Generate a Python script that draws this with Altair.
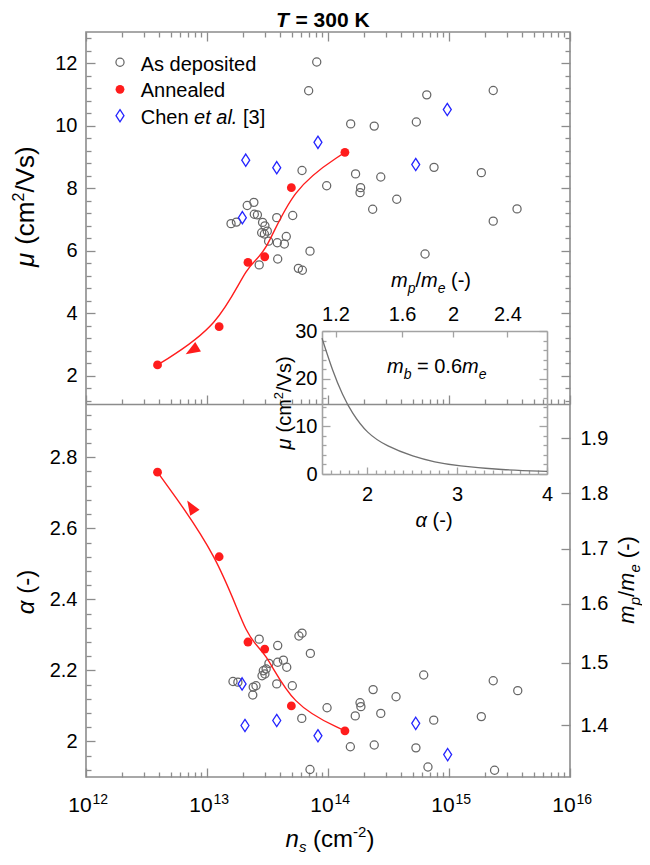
import math
import altair as alt
import pandas as pd

# ---------------- data ----------------
# upper panel: mobility mu (cm^2/Vs) vs sheet density n_s (cm^-2)
dep_top_ns = [8.07e13, 6.92e13, 6.55e14, 2.32e15, 1.54e14, 2.41e14, 5.37e14, 6.1e13, 1.69e14, 2.73e14,
              7.52e14, 1.85e15, 9.75e13, 1.86e14, 1.84e14, 3.7e14, 2.34e14, 6.34e14, 2.32e15, 3.65e15,
              1.58e13, 1.75e13, 2.15e13, 2.44e13, 2.46e13, 2.61e13, 2.88e13, 3.01e13, 2.83e13, 2.98e13,
              3.15e13, 3.23e13, 3.77e13, 3.81e13, 4.36e13, 4.52e13, 5.11e13, 3.84e13, 2.70e13, 7.1e13,
              5.69e13, 6.14e13]
dep_top_mu = [12.04, 11.12, 10.99, 11.13, 10.06, 9.99, 10.12, 8.57, 8.46, 8.36,
              8.67, 8.50, 8.08, 8.02, 7.86, 7.65, 7.33, 5.90, 6.95, 7.34,
              6.87, 6.92, 7.45, 7.55, 7.17, 7.15, 6.91, 6.80, 6.58, 6.54,
              6.63, 6.31, 7.06, 6.26, 6.22, 6.46, 7.13, 5.74, 5.55, 5.99,
              5.44, 5.38]
chen_top_ns = [2.09e13, 3.77e13, 8.26e13, 5.31e14, 9.68e14, 1.96e13]
chen_top_mu = [8.90, 8.66, 9.47, 8.76, 10.52, 7.06]

# lower panel: alpha (-) vs n_s
dep_bot_ns = [1.64e13, 1.80e13, 2.39e13, 2.41e13, 2.54e13, 2.70e13, 2.85e13, 3.01e13, 2.92e13, 3.08e13,
              3.25e13, 3.77e13, 3.84e13, 4.28e13, 3.84e13, 4.56e13, 5.07e13, 5.75e13, 6.10e13, 7.15e13,
              6.07e13, 9.82e13, 1.68e14, 1.84e14, 1.87e14, 2.36e14, 2.73e14, 3.65e14, 6.18e14, 7.48e14,
              1.85e15, 2.32e15, 3.70e15, 1.53e14, 2.41e14, 5.33e14, 7.10e13, 6.70e14, 2.38e15]
dep_bot_alpha = [2.169, 2.167, 2.131, 2.153, 2.157, 2.288, 2.185, 2.190, 2.199, 2.204,
                 2.220, 2.162, 2.223, 2.229, 2.270, 2.209, 2.157, 2.297, 2.305, 2.248,
                 2.065, 2.095, 2.072, 2.109, 2.098, 2.146, 2.079, 2.126, 2.187, 2.060,
                 2.070, 2.171, 2.143, 1.985, 1.990, 1.982, 1.921, 1.928, 1.919]
chen_bot_ns = [1.95e13, 2.06e13, 3.77e13, 8.26e13, 5.31e14, 9.75e14]
chen_bot_alpha = [2.162, 2.045, 2.059, 2.016, 2.051, 1.963]

# annealed series (both panels)
ann_ns = [3.9e12, 1.26e13, 2.18e13, 3.0e13, 4.98e13, 1.38e14]
ann_mu = [2.35, 3.575, 5.63, 5.81, 8.02, 9.15]
ann_alpha = [2.758, 2.52, 2.28, 2.26, 2.10, 2.03]

# arrow heads on the annealed curves
arrow_top = (7.66e12, 2.83)
arrow_bot = (7.48e12, 2.658)

# inset: mu vs alpha for m_b = 0.6 m_e
inset_alpha = [1.5, 1.62, 1.73, 1.83, 2.0, 2.22, 2.52, 2.75, 3.0, 3.5, 4.0]
inset_mu = [28.5, 21.5, 16.5, 12.9, 8.5, 5.8, 3.6, 2.5, 1.7, 0.85, 0.55]

# m_p/m_e tick labels and the alpha at which they sit
mp_labels = ["1.4", "1.5", "1.6", "1.7", "1.8", "1.9"]
mp_alpha = [2.045, 2.222, 2.388, 2.542, 2.699, 2.854]
mp_top_labels = ["1.2", "1.6", "2", "2.4"]
mp_top_alpha = [1.65, 2.39, 2.955, 3.56]

# ---------------- layout / style ----------------
W, H, HT = 484, 745, 372
FONT = "Liberation Sans"
FRAME = "#8c8c8c"
INSET = "#a3a3a3"
GRAY = "#666666"
RED = "#ff1c1c"
BLUE = "#2424ff"
DIAMOND = "M0,-1L0.65,0L0,1L-0.65,0Z"


def tri_path(dx, dy):
    n = math.hypot(dx, dy)
    dx, dy = dx / n, dy / n
    px, py = -dy, dx
    bx, by = -0.7 * dx, -0.7 * dy
    c1 = (bx + 0.65 * px, by + 0.65 * py)
    c2 = (bx - 0.65 * px, by - 0.65 * py)
    return f"M{dx:.3f},{dy:.3f}L{c1[0]:.3f},{c1[1]:.3f}L{c2[0]:.3f},{c2[1]:.3f}Z"


TRI_TOP = tri_path(-0.857, 0.515)   # pointing down-left
TRI_BOT = tri_path(-0.53, -0.848)   # pointing up-left

xs = alt.Scale(type="log", domain=[1e12, 1e16], nice=False)
ys_top = alt.Scale(domain=[1.1, 13], range=[HT, 0], nice=False, zero=False)
ys_bot = alt.Scale(domain=[1.9, 2.95], range=[H, HT], nice=False, zero=False)
xs_in = alt.Scale(domain=[1.5, 4], range=[236, 461], nice=False, zero=False)
ys_in = alt.Scale(domain=[0, 30], range=[442, 299], nice=False, zero=False)

dec = [1e12, 1e13, 1e14, 1e15, 1e16]
dec_minor = [k * 10.0 ** d for d in range(12, 16) for k in range(2, 10)]
mu_major = [2, 4, 6, 8, 10, 12]
mu_minor = [round(0.4 * i, 2) for i in range(3, 33) if i % 5 != 0]
al_major = [2.0, 2.2, 2.4, 2.6, 2.8]
al_minor = [round(0.04 * i, 2) for i in range(48, 74) if i % 5 != 0]
in_y_major = [0, 10, 20, 30]
in_y_minor = [i for i in range(2, 30, 2) if i % 10 != 0]
in_x_major = [2, 3, 4]
in_x_minor = [round(0.1 * i, 1) for i in range(16, 40) if i % 10 != 0]

one = pd.DataFrame({"k": [0]})
top_dep = pd.DataFrame({"ns": dep_top_ns, "v": dep_top_mu})
top_chen = pd.DataFrame({"ns": chen_top_ns, "v": chen_top_mu})
top_ann = pd.DataFrame({"ns": ann_ns, "v": ann_mu})
top_arr = pd.DataFrame({"ns": [arrow_top[0]], "v": [arrow_top[1]]})
bot_dep = pd.DataFrame({"ns": dep_bot_ns, "v": dep_bot_alpha})
bot_chen = pd.DataFrame({"ns": chen_bot_ns, "v": chen_bot_alpha})
bot_ann = pd.DataFrame({"ns": ann_ns, "v": ann_alpha})
bot_arr = pd.DataFrame({"ns": [arrow_bot[0]], "v": [arrow_bot[1]]})
inset_df = pd.DataFrame({"a": inset_alpha, "v": inset_mu})


def step_expr(vals, labs):
    expr = f"'{labs[-1]}'"
    for i in range(len(vals) - 2, -1, -1):
        mid = (vals[i] + vals[i + 1]) / 2
        expr = f"datum.value < {mid:.4f} ? '{labs[i]}' : ({expr})"
    return expr


def ax(df, field, ch, scale, orient, values, offset=0, tick=0, labels=False, domain=False,
       color=FRAME, **kw):
    opts = dict(orient=orient, offset=offset, values=values, grid=False, title=None,
                labels=labels, domain=domain, domainColor=color, tickColor=color)
    if tick > 0:
        opts.update(ticks=True, tickSize=tick)
    else:
        opts.update(ticks=False, tickSize=0)
    opts.update(kw)
    axis = alt.Axis(**opts)
    if ch == "x":
        enc = alt.X(f"{field}:Q", scale=scale, axis=axis)
    else:
        enc = alt.Y(f"{field}:Q", scale=scale, axis=axis)
    return alt.Chart(df).mark_point(opacity=0).encode(**{ch: enc})


def panel_marks(dep, chen, ann, arr, ys, tri):
    X = alt.X("ns:Q", scale=xs, axis=None)
    Y = alt.Y("v:Q", scale=ys, axis=None)
    return [
        alt.Chart(dep).mark_point(shape="circle", filled=False, color=GRAY, size=66,
                                  strokeWidth=1.25, opacity=1).encode(x=X, y=Y),
        alt.Chart(chen).mark_point(shape=DIAMOND, filled=False, color=BLUE, size=150,
                                   strokeWidth=1.3, opacity=1).encode(x=X, y=Y),
        alt.Chart(ann).mark_line(interpolate="basis", color=RED, strokeWidth=1.4).encode(x=X, y=Y),
        alt.Chart(ann).mark_point(shape="circle", filled=True, color=RED, size=78,
                                  opacity=1, strokeWidth=0).encode(x=X, y=Y),
        alt.Chart(arr).mark_point(shape=tri, filled=True, color=RED, size=290, opacity=1,
                                  strokeWidth=0).encode(x=X, y=Y),
    ]


# ---- upper panel ----
top_axes = [
    ax(top_dep, "v", "y", ys_top, "left", mu_major, labels=True, labelPadding=9),
    ax(top_dep, "v", "y", ys_top, "right", mu_major, offset=-W, tick=9),
    ax(top_dep, "v", "y", ys_top, "right", mu_minor, offset=-W, tick=5),
    ax(top_dep, "v", "y", ys_top, "left", mu_major, offset=-W, tick=9),
    ax(top_dep, "v", "y", ys_top, "left", mu_minor, offset=-W, tick=5),
    ax(top_dep, "ns", "x", xs, "bottom", dec, offset=-H, tick=9),
    ax(top_dep, "ns", "x", xs, "bottom", dec_minor, offset=-H, tick=5),
    ax(top_dep, "ns", "x", xs, "top", dec, offset=-HT, tick=9, domain=True),
    ax(top_dep, "ns", "x", xs, "top", dec_minor, offset=-HT, tick=5),
]
top = alt.layer(*panel_marks(top_dep, top_chen, top_ann, top_arr, ys_top, TRI_TOP),
                *top_axes).resolve_axis(x="independent", y="independent")

# ---- lower panel ----
bot_axes = [
    ax(bot_dep, "v", "y", ys_bot, "left", al_major, labels=True, labelPadding=9, format=".2~f"),
    ax(bot_dep, "v", "y", ys_bot, "right", al_major, offset=-W, tick=9),
    ax(bot_dep, "v", "y", ys_bot, "right", al_minor, offset=-W, tick=5),
    ax(bot_dep, "v", "y", ys_bot, "left", mp_alpha, offset=-W, tick=9),
    ax(bot_dep, "v", "y", ys_bot, "right", mp_alpha, labels=True, labelPadding=10,
       labelExpr=step_expr(mp_alpha, mp_labels)),
    ax(bot_dep, "ns", "x", xs, "bottom", dec, labels=True, labelPadding=17, labelExpr="'10'",
       labelOffset=-6.5, labelFontSize=21),
    ax(bot_dep, "ns", "x", xs, "bottom", dec, labels=True, labelPadding=15,
       labelExpr="'' + round(log(datum.value) / LN10)", labelOffset=6, labelAlign="left",
       labelFontSize=14),
    ax(bot_dep, "ns", "x", xs, "top", dec, offset=-H, tick=9),
    ax(bot_dep, "ns", "x", xs, "top", dec_minor, offset=-H, tick=5),
]
bot = alt.layer(*panel_marks(bot_dep, bot_chen, bot_ann, bot_arr, ys_bot, TRI_BOT),
                *bot_axes).resolve_axis(x="independent", y="independent")

# ---- inset ----
inset_axes = [
    ax(inset_df, "v", "y", ys_in, "left", in_y_major, offset=-236, labels=True, labelPadding=5),
    ax(inset_df, "v", "y", ys_in, "right", in_y_major, offset=-(W - 236), tick=8, domain=True, color=INSET),
    ax(inset_df, "v", "y", ys_in, "right", in_y_minor, offset=-(W - 236), tick=4, color=INSET),
    ax(inset_df, "v", "y", ys_in, "left", in_y_major, offset=-461, tick=8, domain=True, color=INSET),
    ax(inset_df, "v", "y", ys_in, "left", in_y_minor, offset=-461, tick=4, color=INSET),
    ax(inset_df, "a", "x", xs_in, "bottom", in_x_major, offset=-(H - 442), labels=True, labelPadding=10),
    ax(inset_df, "a", "x", xs_in, "top", in_x_major, offset=-442, tick=7, domain=True, color=INSET),
    ax(inset_df, "a", "x", xs_in, "top", in_x_minor, offset=-442, tick=4, color=INSET),
    ax(inset_df, "a", "x", xs_in, "top", mp_top_alpha, offset=-299, labels=True, labelPadding=7,
       labelExpr=step_expr(mp_top_alpha, mp_top_labels)),
    ax(inset_df, "a", "x", xs_in, "bottom", mp_top_alpha, offset=-(H - 299), tick=6, domain=True,
       color=INSET),
]
inset_curve = alt.Chart(inset_df).mark_line(interpolate="basis", color="#707070",
                                            strokeWidth=1.3).encode(
    x=alt.X("a:Q", scale=xs_in, axis=None), y=alt.Y("v:Q", scale=ys_in, axis=None))
inset = alt.layer(inset_curve, *inset_axes).resolve_axis(x="independent", y="independent")

# ---------------- text (mixed italic / sub- and superscripts) ----------------
CW = {' ': .278, '(': .333, ')': .333, '-': .333, '/': .278, '.': .278, '=': .584, '[': .278,
      ']': .278, 'm': .833, 'c': .5, 's': .5, 'V': .667, 'T': .611, 'K': .667, 'μ': .576,
      'α': .578, 'i': .222, 'l': .222, 't': .278, 'C': .722, 'A': .667}


def tw(s, size, bold=False):
    return sum(CW.get(c, .556) for c in s) * size * (1.06 if bold else 1.0)


def txt(s, x, y, size, italic=False, bold=False, angle=0):
    kw = dict(text=s, font=FONT, fontSize=size, color="black", align="left",
              baseline="alphabetic", fontStyle="italic" if italic else "normal",
              fontWeight="bold" if bold else "normal")
    if angle:
        kw["angle"] = angle
    return alt.Chart(one).mark_text(**kw).encode(x=alt.value(x), y=alt.value(y))


def run(pieces, x0, y0, angle=0):
    out, pos = [], 0.0
    for s, size, it, bd, shift in pieces:
        body = s.lstrip(" ")
        pos += tw(" " * (len(s) - len(body)), size)
        if angle == 0:
            out.append(txt(body, x0 + pos, y0 - shift, size, it, bd))
        else:
            out.append(txt(body, x0 - shift, y0 - pos, size, it, bd, angle))
        pos += tw(body, size, bd)
    return out


texts = []
texts += run([("T", 21, True, True, 0), (" = 300 K", 21, False, True, 0)], 190, -5.5)
# legend
texts += [
    alt.Chart(one).mark_point(shape="circle", filled=False, color=GRAY, size=66, strokeWidth=1.25,
                              opacity=1).encode(x=alt.value(34), y=alt.value(30.3)),
    alt.Chart(one).mark_point(shape="circle", filled=True, color=RED, size=78, strokeWidth=0,
                              opacity=1).encode(x=alt.value(34), y=alt.value(57.3)),
    alt.Chart(one).mark_point(shape=DIAMOND, filled=False, color=BLUE, size=150, strokeWidth=1.3,
                              opacity=1).encode(x=alt.value(34), y=alt.value(83.7)),
]
texts += run([("As deposited", 20, False, False, 0)], 54.7, 38.7)
texts += run([("Annealed", 20, False, False, 0)], 54.7, 65.3)
texts += run([("Chen", 20, False, False, 0), (" et al.", 20, True, False, 0),
              (" [3]", 20, False, False, 0)], 54.7, 92)
# axis titles
texts += run([("μ", 26, True, False, 0), (" (cm", 26, False, False, 0), ("2", 16, False, False, 10),
              ("/Vs)", 26, False, False, 0)], -52, 235, 270)
texts += run([("α", 24, True, False, 0), (" (-)", 24, False, False, 0)], -52, 582.3, 270)
texts += run([("m", 22, True, False, 0), ("p", 15, True, False, -6), ("/", 22, False, False, 0),
              ("m", 22, True, False, 0), ("e", 15, True, False, -6), (" (-)", 22, False, False, 0)],
             548, 591.7, 270)
texts += run([("n", 24, True, False, 0), ("s", 15, True, False, -5), (" (cm", 24, False, False, 0),
              ("-2", 15, False, False, 10), (")", 24, False, False, 0)], 199.6, 815)
# inset texts
texts += run([("m", 20, True, False, 0), ("b", 14, True, False, -6), (" = 0.6", 20, False, False, 0),
              ("m", 20, True, False, 0), ("e", 14, True, False, -6)], 301, 341)
texts += run([("m", 20, True, False, 0), ("p", 14, True, False, -6), ("/", 20, False, False, 0),
              ("m", 20, True, False, 0), ("e", 14, True, False, -6), (" (-)", 20, False, False, 0)],
             305, 254.7)
texts += run([("μ", 20, True, False, 0), (" (cm", 20, False, False, 0), ("2", 13, False, False, 8),
              ("/Vs)", 20, False, False, 0)], 205, 417.6, 270)
texts += run([("α", 20, True, False, 0), (" (-)", 20, False, False, 0)], 329.5, 495)

chart = alt.layer(top, bot, inset, *texts).resolve_scale(
    x="independent", y="independent").resolve_axis(
    x="independent", y="independent").properties(
    width=W, height=H,
    padding={"left": 78, "top": 24, "right": 72, "bottom": 80},
    autosize=alt.AutoSizeParams(type="none"),
).configure_view(stroke=FRAME, strokeWidth=1.6).configure_axis(
    labelFont=FONT, labelFontSize=20, labelColor="black", tickWidth=1.3, domainWidth=1.6,
    grid=False, labelFlush=False, labelOverlap=False,
)

chart.save("out.html", embed_options={"renderer": "svg", "actions": False})
